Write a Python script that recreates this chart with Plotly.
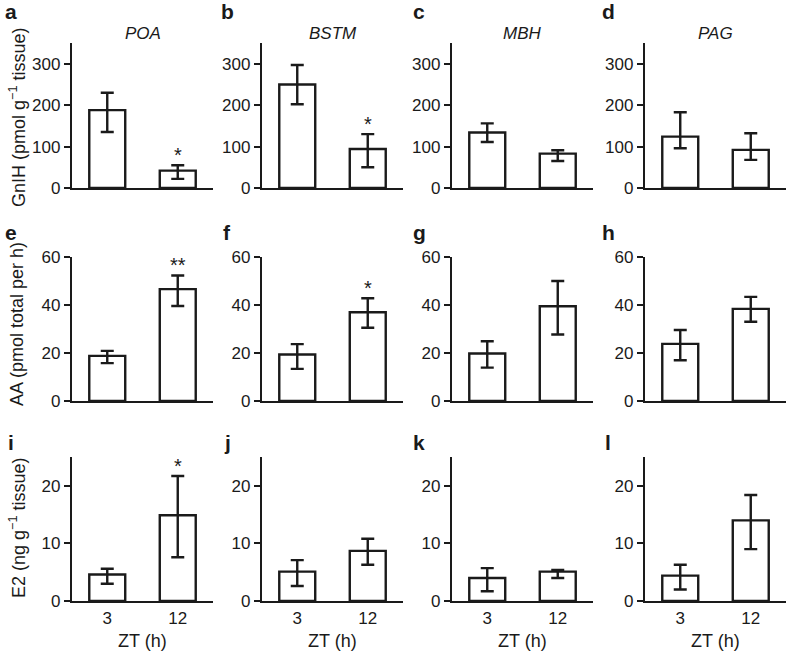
import plotly.graph_objects as go

W, H = 788, 651

# ---------------- data ----------------
regions = ["POA", "BSTM", "MBH", "PAG"]
zt = ["3", "12"]
letters = [["a", "b", "c", "d"], ["e", "f", "g", "h"], ["i", "j", "k", "l"]]

gnih_mean = [[188, 42], [250, 94], [134, 83], [124, 92]]
gnih_plus = [[42, 13], [47, 36], [22, 8], [59, 40]]
gnih_minus = [[53, 20], [48, 44], [23, 18], [28, 24]]
gnih_sig = [["", "*"], ["", "*"], ["", ""], ["", ""]]

aa_mean = [[18.8, 46.6], [19.4, 37.0], [19.8, 39.5], [23.8, 38.4]]
aa_plus = [[2.1, 5.7], [4.3, 5.8], [5.1, 10.5], [5.8, 5.0]]
aa_minus = [[3.0, 7.0], [6.0, 6.5], [5.9, 11.8], [6.8, 5.4]]
aa_sig = [["", "**"], ["", "*"], ["", ""], ["", ""]]

e2_mean = [[4.6, 14.9], [5.1, 8.7], [4.0, 5.1], [4.4, 14.0]]
e2_plus = [[1.0, 6.8], [2.0, 2.1], [1.7, 0.3], [1.9, 4.4]]
e2_minus = [[1.6, 7.3], [2.5, 2.4], [2.3, 1.1], [2.4, 5.0]]
e2_sig = [["", "*"], ["", ""], ["", ""], ["", ""]]

y_titles = ["GnIH (pmol g<sup>−1</sup> tissue)", "AA (pmol total per h)",
            "E2 (ng g<sup>−1</sup> tissue)"]
y_ranges = [[0, 350], [0, 60], [0, 25]]
y_ticks = [[0, 100, 200, 300], [0, 20, 40, 60], [0, 10, 20]]
x_title = "ZT (h)"

rows = [
    (gnih_mean, gnih_plus, gnih_minus, gnih_sig),
    (aa_mean, aa_plus, aa_minus, aa_sig),
    (e2_mean, e2_plus, e2_minus, e2_sig),
]

# ---------------- layout geometry (pixels) ----------------
col_x0 = [72, 262, 452, 645]
col_w = 141
row_y = [(43, 188), (257, 401), (457, 601)]
title_y_center = [118, 324, 528]
letter_pos_x = [11, 227, 419, 608]
letter_pos_y = [11, 233, 442]

INK = "#1a1a1a"
FONT = "Liberation Sans, Arial, Helvetica, sans-serif"


def px_x(p):
    return p / W


def px_y(p):
    return 1 - p / H


fig = go.Figure()
annotations = []
layout = dict(
    width=W, height=H,
    margin=dict(l=0, r=0, t=0, b=0, pad=0, autoexpand=False),
    paper_bgcolor="white", plot_bgcolor="white", showlegend=False,
    font=dict(family=FONT, size=17, color=INK),
)

idx = 0
for r, (mean, plus, minus, sig) in enumerate(rows):
    for c in range(4):
        idx += 1
        xa = "x" if idx == 1 else f"x{idx}"
        ya = "y" if idx == 1 else f"y{idx}"
        fig.add_trace(go.Bar(
            x=zt, y=mean[c], xaxis=xa, yaxis=ya, width=0.51,
            marker=dict(color="white", line=dict(color=INK, width=2.4)),
            error_y=dict(type="data", symmetric=False, array=plus[c],
                         arrayminus=minus[c], thickness=2.4, width=6.5,
                         color=INK),
        ))
        x0 = col_x0[c]
        y_top, y_bot = row_y[r]
        layout["xaxis" + ("" if idx == 1 else str(idx))] = dict(
            domain=[px_x(x0), px_x(x0 + col_w)], anchor=ya,
            type="category", range=[-0.5, 1.5], automargin=False,
            showline=True, linecolor=INK, linewidth=2.4,
            ticks="", showgrid=False, zeroline=False,
            showticklabels=(r == 2), tickfont=dict(size=17, color=INK),
        )
        layout["yaxis" + ("" if idx == 1 else str(idx))] = dict(
            domain=[px_y(y_bot), px_y(y_top)], anchor=xa,
            range=y_ranges[r], tickvals=y_ticks[r], automargin=False,
            showline=True, linecolor=INK, linewidth=2.4,
            ticks="outside", ticklen=6, tickwidth=2.4, tickcolor=INK,
            showgrid=False, zeroline=False,
            tickfont=dict(size=17, color=INK),
        )
        # significance marks
        for k in range(2):
            if sig[c][k]:
                annotations.append(dict(
                    x=k, y=mean[c][k] + plus[c][k], xref=xa, yref=ya,
                    text=sig[c][k], showarrow=False, yanchor="bottom",
                    yshift=-3, font=dict(size=20, color=INK)))
        # panel letter
        annotations.append(dict(
            x=px_x(letter_pos_x[c]), y=px_y(letter_pos_y[r]),
            xref="paper", yref="paper", text=f"<b>{letters[r][c]}</b>",
            showarrow=False, xanchor="center", yanchor="middle",
            font=dict(size=21, color=INK)))
        # region title on top row
        if r == 0:
            annotations.append(dict(
                x=px_x(x0 + col_w / 2), y=px_y(33), xref="paper", yref="paper",
                text=f"<i>{regions[c]}</i>", showarrow=False,
                xanchor="center", yanchor="middle",
                font=dict(size=17, color=INK)))
        # x title on bottom row
        if r == 2:
            annotations.append(dict(
                x=px_x(x0 + col_w / 2), y=px_y(641), xref="paper", yref="paper",
                text=x_title, showarrow=False, xanchor="center",
                yanchor="middle", font=dict(size=18, color=INK)))
    # y title
    annotations.append(dict(
        x=px_x(17), y=px_y(title_y_center[r]), xref="paper", yref="paper",
        text=y_titles[r], textangle=-90, showarrow=False,
        xanchor="center", yanchor="middle", font=dict(size=18, color=INK)))

layout["annotations"] = annotations
fig.update_layout(**layout)
fig.write_html(
    "out.html",
    config={"displayModeBar": False},
    post_script=(
        "var g=document.getElementById('{plot_id}');"
        "g.style.position='fixed';g.style.left='0px';g.style.top='0px';"
        "document.body.style.margin='0';document.body.style.overflow='hidden';"
    ),
)
